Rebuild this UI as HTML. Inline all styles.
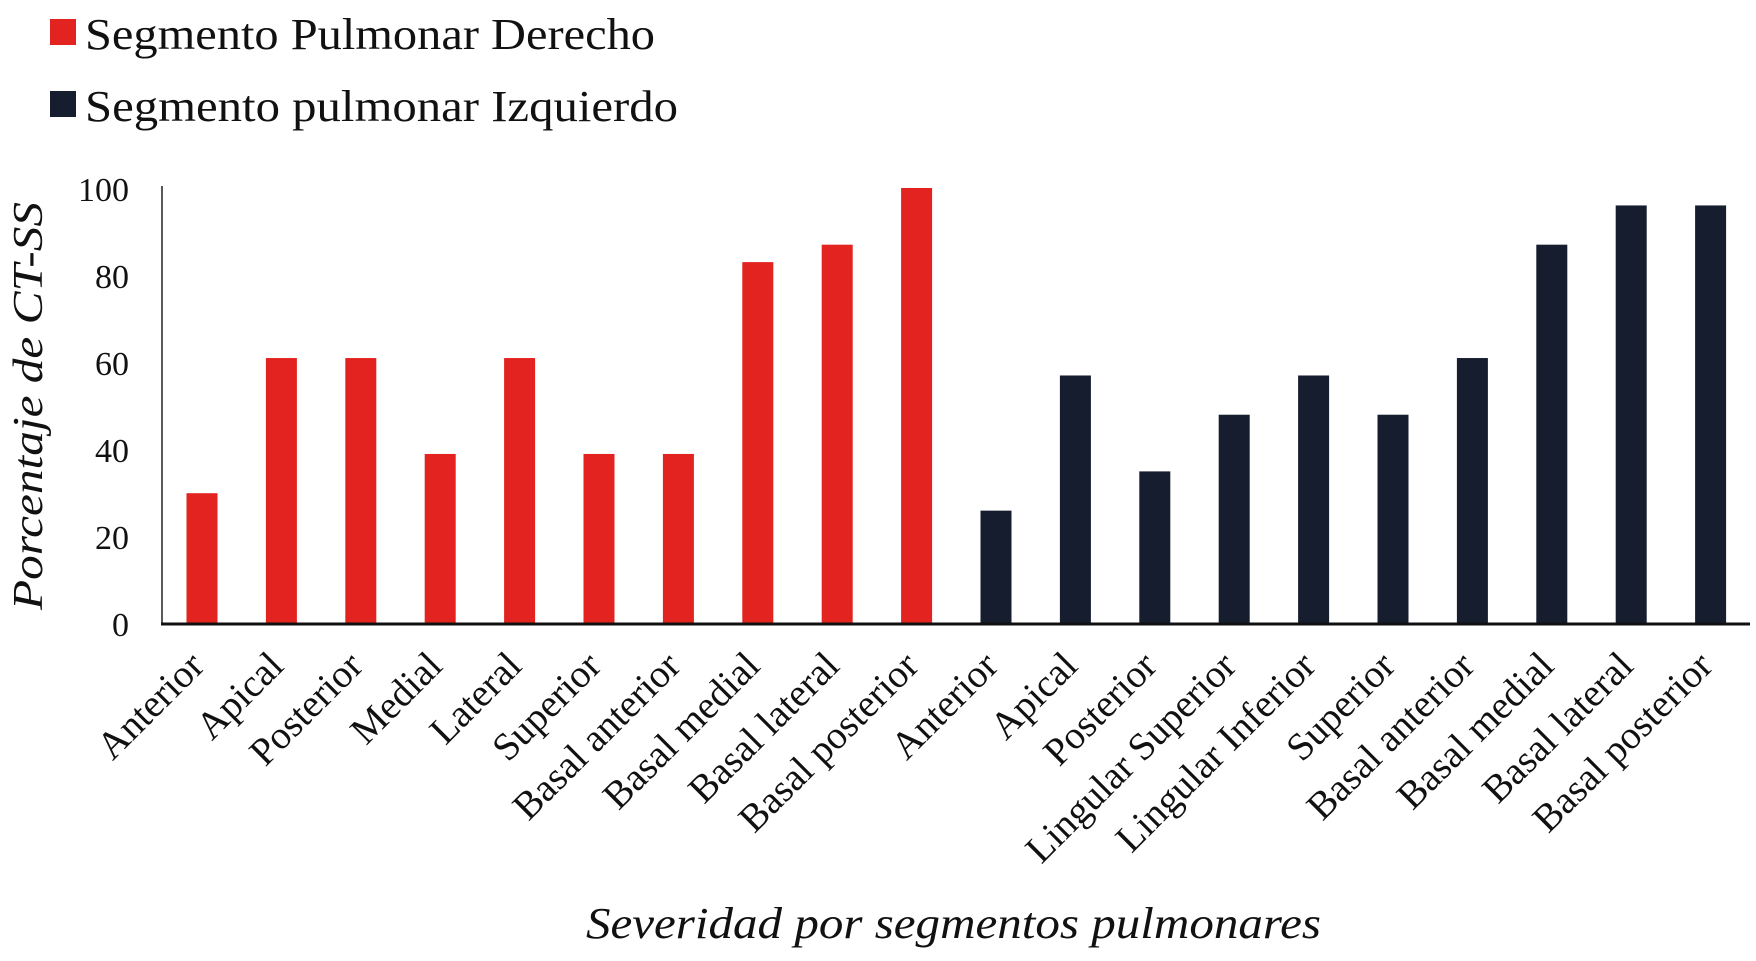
<!DOCTYPE html>
<html><head><style>body{margin:0;background:#fff}svg{display:block}</style></head><body>
<svg width="1756" height="961" xmlns="http://www.w3.org/2000/svg" font-family="Liberation Serif, serif">
<rect x="0" y="0" width="1756" height="961" fill="#fff"/>
<rect x="50" y="19" width="26" height="26" fill="#e2231f"/>
<text x="85" y="49" font-size="44" fill="#111" textLength="570" lengthAdjust="spacingAndGlyphs">Segmento Pulmonar Derecho</text>
<rect x="50" y="91" width="26" height="26" fill="#161d2f"/>
<text x="85" y="121" font-size="44" fill="#111" textLength="593" lengthAdjust="spacingAndGlyphs">Segmento pulmonar Izquierdo</text>
<g font-size="34" fill="#111" text-anchor="end">
<text x="129" y="636">0</text><text x="129" y="549">20</text><text x="129" y="462">40</text>
<text x="129" y="375">60</text><text x="129" y="288">80</text><text x="129" y="201">100</text>
</g>
<text transform="translate(42,406) rotate(-90)" text-anchor="middle" font-size="42" font-style="italic" fill="#111" textLength="408" lengthAdjust="spacingAndGlyphs">Porcentaje de CT-SS</text>
<line x1="162" y1="186" x2="162" y2="624" stroke="#222" stroke-width="1.5"/>
<g fill="#e2231f">
<rect x="186.5" y="493.2" width="31" height="130.8"/>
<rect x="265.9" y="358.04" width="31" height="265.96"/>
<rect x="345.3" y="358.04" width="31" height="265.96"/>
<rect x="424.7" y="453.96" width="31" height="170.04"/>
<rect x="504.1" y="358.04" width="31" height="265.96"/>
<rect x="583.5" y="453.96" width="31" height="170.04"/>
<rect x="662.9" y="453.96" width="31" height="170.04"/>
<rect x="742.3" y="262.12" width="31" height="361.88"/>
<rect x="821.7" y="244.68" width="31" height="379.32"/>
<rect x="901.1" y="188" width="31" height="436"/>
</g>
<g fill="#161d2f">
<rect x="980.5" y="510.64" width="31" height="113.36"/>
<rect x="1059.9" y="375.48" width="31" height="248.52"/>
<rect x="1139.3" y="471.4" width="31" height="152.6"/>
<rect x="1218.7" y="414.72" width="31" height="209.28"/>
<rect x="1298.1" y="375.48" width="31" height="248.52"/>
<rect x="1377.5" y="414.72" width="31" height="209.28"/>
<rect x="1456.9" y="358.04" width="31" height="265.96"/>
<rect x="1536.3" y="244.68" width="31" height="379.32"/>
<rect x="1615.7" y="205.44" width="31" height="418.56"/>
<rect x="1695.1" y="205.44" width="31" height="418.56"/>
</g>
<line x1="161" y1="624" x2="1750" y2="624" stroke="#111" stroke-width="3"/>
<g font-size="39" fill="#111" text-anchor="end">
<text transform="translate(206,668) rotate(-45)">Anterior</text>
<text transform="translate(285.4,668) rotate(-45)">Apical</text>
<text transform="translate(364.8,668) rotate(-45)">Posterior</text>
<text transform="translate(444.2,668) rotate(-45)">Medial</text>
<text transform="translate(523.6,668) rotate(-45)">Lateral</text>
<text transform="translate(603,668) rotate(-45)">Superior</text>
<text transform="translate(682.4,668) rotate(-45)">Basal anterior</text>
<text transform="translate(761.8,668) rotate(-45)">Basal medial</text>
<text transform="translate(841.2,668) rotate(-45)">Basal lateral</text>
<text transform="translate(920.6,668) rotate(-45)">Basal posterior</text>
<text transform="translate(1000,668) rotate(-45)">Anterior</text>
<text transform="translate(1079.4,668) rotate(-45)">Apical</text>
<text transform="translate(1158.8,668) rotate(-45)">Posterior</text>
<text transform="translate(1238.2,668) rotate(-45)">Lingular Superior</text>
<text transform="translate(1317.6,668) rotate(-45)">Lingular Inferior</text>
<text transform="translate(1397,668) rotate(-45)">Superior</text>
<text transform="translate(1476.4,668) rotate(-45)">Basal anterior</text>
<text transform="translate(1555.8,668) rotate(-45)">Basal medial</text>
<text transform="translate(1635.2,668) rotate(-45)">Basal lateral</text>
<text transform="translate(1714.6,668) rotate(-45)">Basal posterior</text>
</g>
<text x="586" y="938" font-size="44" font-style="italic" fill="#111" textLength="735" lengthAdjust="spacingAndGlyphs">Severidad por segmentos pulmonares</text>
</svg>
</body></html>
